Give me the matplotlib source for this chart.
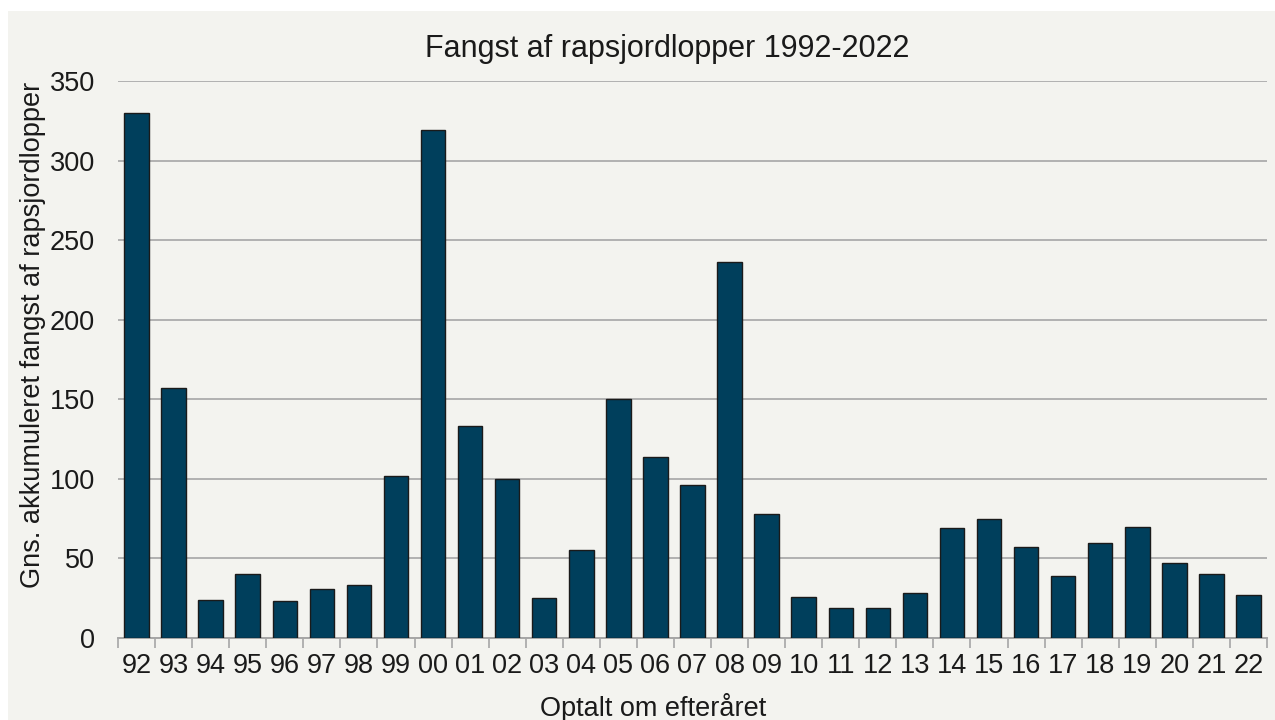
import matplotlib.pyplot as plt
from matplotlib.patches import Rectangle

plt.rcParams['font.family'] = ['Liberation Sans', 'DejaVu Sans']

# year labels (autumn counts) and average accumulated catch
years = ['92', '93', '94', '95', '96', '97', '98', '99', '00', '01', '02',
         '03', '04', '05', '06', '07', '08', '09', '10', '11', '12', '13',
         '14', '15', '16', '17', '18', '19', '20', '21', '22']
catch = [330, 157, 24, 40, 23, 31, 33, 102, 319, 133, 100,
         25, 55, 150, 114, 96, 236, 78, 26, 19, 19, 28,
         69, 75, 57, 39, 60, 70, 47, 40, 27]

panel = '#f3f3ef'
bar_color = '#003f5c'
grid_color = '#a6a6a6'
text_color = '#1a1a1a'

fig = plt.figure(figsize=(12.75, 7.2), dpi=100, facecolor='white')
bg = Rectangle((8 / 1275, 0), 1, 709 / 720, transform=fig.transFigure,
               facecolor=panel, edgecolor='none', zorder=-10)
fig.add_artist(bg)
ax = fig.add_axes([118 / 1275, 1 - 638 / 720, (1267 - 118) / 1275, (638 - 81) / 720])
ax.set_facecolor(panel)

x = range(len(years))
ax.bar(x, catch, width=0.66, color=bar_color, edgecolor=text_color, linewidth=1, zorder=3)

ax.set_xlim(-0.5, len(years) - 0.5)
ax.set_ylim(0, 350)
ax.set_yticks(range(0, 351, 50))
ax.yaxis.grid(True, color=grid_color, linewidth=1.2, zorder=0)
ax.set_axisbelow(True)

ax.set_xticks(list(x))
ax.set_xticklabels(years)
ax.set_xticks([i - 0.5 for i in range(len(years) + 1)], minor=True)
ax.tick_params(axis='x', which='major', length=0, labelsize=19.5, pad=11, colors=text_color)
ax.tick_params(axis='x', which='minor', length=7, width=1.2, color=grid_color, direction='out')
ax.tick_params(axis='y', length=0, labelsize=19.5, pad=16.5, colors=text_color)

for s in ['top', 'right', 'left']:
    ax.spines[s].set_visible(False)
ax.spines['bottom'].set_color(grid_color)
ax.spines['bottom'].set_linewidth(1.4)

ax.set_title('Fangst af rapsjordlopper 1992-2022', fontsize=22, color=text_color,
             pad=17.5, x=0.478)
ax.set_xlabel('Optalt om efteråret', fontsize=19.5, color=text_color)
ax.xaxis.set_label_coords(0.466, -0.0987)
ax.set_ylabel('Gns. akkumuleret fangst af rapsjordlopper', fontsize=19.5, color=text_color)
ax.yaxis.set_label_coords(-0.0627, 0.544)

fig.savefig('out.png', dpi=100, facecolor='white')
